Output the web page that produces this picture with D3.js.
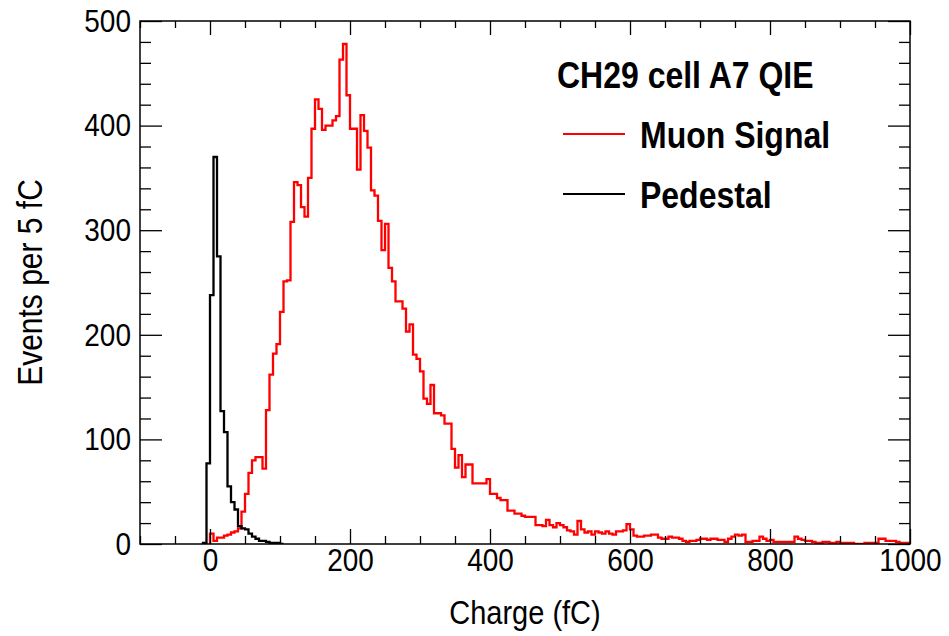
<!DOCTYPE html>
<html>
<head>
<meta charset="utf-8">
<script src="https://cdn.jsdelivr.net/npm/d3@7"></script>
<style>
  body { margin: 0; background: #fff; }
  svg text { font-family: "Liberation Sans", Arial, Helvetica, sans-serif; }
</style>
</head>
<body>
<div id="chart"></div>
<script>
// Canvas size
var svgWidth = 949;
var svgHeight = 636;

// Frame of the histogram pad
var margin = { top: 21, right: 39, bottom: 92, left: 140 };
var chartWidth = svgWidth - margin.left - margin.right;
var chartHeight = svgHeight - margin.top - margin.bottom;

// text in the original is a bit taller than wide
var textStretch = 1.15;

// Histogram binning (fC)
var binWidth = 5;
var muonStart = 0;
var pedStart = -10;

// Muon signal counts, 5 fC bins starting at 0 fC
var muonCounts = [
  10, 3, 6, 6, 8, 9, 11, 12, 15, 31,
  48, 68, 80, 83, 83, 72, 128, 162, 182, 191,
  222, 251, 252, 308, 346, 343, 322, 313, 350, 397,
  425, 416, 396, 400, 400, 405, 409, 463, 478, 429,
  397, 397, 358, 410, 395, 379, 338, 333, 309, 281,
  306, 264, 251, 232, 232, 225, 203, 210, 181, 177,
  165, 139, 134, 152, 125, 125, 123, 115, 115, 91,
  73, 85, 64, 76, 76, 58, 58, 58, 58, 62,
  48, 48, 44, 42, 42, 32, 32, 29, 29, 27,
  26, 26, 26, 18, 18, 17, 23, 18, 16, 20,
  18, 16, 13, 12, 9, 22, 14, 11, 12, 9,
  12, 11, 10, 12, 10, 9, 12, 12, 13, 19,
  14, 8, 7, 7, 8, 8, 9, 9, 6, 5,
  5, 7, 6, 6, 5, 3, 2, 3, 3, 4,
  5, 5, 4, 5, 5, 4, 4, 2, 5, 7,
  9, 8, 9, 2, 2, 3, 3, 7, 5, 3,
  4, 2, 2, 2, 2, 2, 2, 7, 5, 4,
  3, 3, 2, 1, 1, 2, 2, 1, 1, 2,
  1, 1, 1, 1, 0, 0, 0, 1, 1, 1,
  1, 5, 5, 3, 3, 3, 2, 1, 1, 1
];

// Pedestal counts, 5 fC bins starting at -10 fC
var pedCounts = [
  1, 77, 238, 370, 275, 127, 107, 55, 40, 33,
  17, 15, 14, 10, 7, 5, 3, 3, 2, 1,
  1, 1, 0
];

// Axis ticks
var xMajor = [0, 200, 400, 600, 800, 1000];
var xMinor = [-100, -50, 50, 100, 150, 250, 300, 350, 450, 500, 550, 650, 700, 750, 850, 900, 950];
var yMajor = [0, 100, 200, 300, 400, 500];
var yMinor = [20, 40, 60, 80, 120, 140, 160, 180, 220, 240, 260, 280, 320, 340, 360, 380, 420, 440, 460, 480];

// Legend entries
var legendTitle = "CH29 cell A7 QIE";
var legendNames = ["Muon Signal", "Pedestal"];
var legendColors = ["#ff0000", "#000000"];

var svg = d3.select("#chart")
  .append("svg")
  .attr("width", svgWidth)
  .attr("height", svgHeight);

var chartGroup = svg.append("g")
  .attr("transform", `translate(${margin.left}, ${margin.top})`);

var xScale = d3.scaleLinear().domain([-100, 1000]).range([0, chartWidth]);
var yScale = d3.scaleLinear().domain([0, 500]).range([chartHeight, 0]);

chartGroup.append("clipPath").attr("id", "plotClip")
  .append("rect").attr("width", chartWidth).attr("height", chartHeight);

// turn counts into step points for the outline
function histPoints(counts, start) {
  var pts = [{ x: start, y: 0 }];
  counts.forEach(function(c, i) {
    pts.push({ x: start + i * binWidth, y: c });
  });
  var end = start + counts.length * binWidth;
  pts.push({ x: end, y: counts[counts.length - 1] });
  pts.push({ x: end, y: 0 });
  return pts;
}

// stretch a text vertically, keeping its anchor point
function stretchText(sel) {
  sel.each(function() {
    var t = d3.select(this);
    var y = +t.attr("y") || 0;
    var tr = t.attr("transform") || "";
    t.attr("y", y / textStretch)
      .attr("transform", tr + " scale(1," + textStretch + ")");
  });
}

var drawStep = d3.line()
  .curve(d3.curveStepAfter)
  .x(d => xScale(d.x))
  .y(d => yScale(d.y));

var histGroup = chartGroup.append("g").attr("clip-path", "url(#plotClip)");

histGroup.append("path")
  .attr("d", drawStep(histPoints(muonCounts, muonStart)))
  .attr("fill", "none")
  .attr("stroke", legendColors[0])
  .attr("stroke-width", 2.3);

histGroup.append("path")
  .attr("d", drawStep(histPoints(pedCounts, pedStart)))
  .attr("fill", "none")
  .attr("stroke", legendColors[1])
  .attr("stroke-width", 2.3);

// Axes with ROOT style inward ticks on all four sides
function styleAxis(g) {
  g.select(".domain").remove();
  g.selectAll("line").attr("stroke", "#000").attr("stroke-width", 1.3);
  g.selectAll("text")
    .attr("font-size", 28)
    .attr("font-family", "Liberation Sans, Arial, sans-serif")
    .attr("fill", "#000")
    .call(stretchText);
}

chartGroup.append("g")
  .attr("transform", "translate(0, " + chartHeight + ")")
  .call(d3.axisBottom(xScale).tickValues(xMajor).tickSize(-15).tickPadding(4).tickFormat(d3.format("d")))
  .call(styleAxis);

chartGroup.append("g")
  .attr("transform", "translate(0, " + chartHeight + ")")
  .call(d3.axisBottom(xScale).tickValues(xMinor).tickSize(-8).tickFormat(""))
  .call(styleAxis);

chartGroup.append("g")
  .call(d3.axisTop(xScale).tickValues(xMajor).tickSize(-14).tickFormat(""))
  .call(styleAxis);

chartGroup.append("g")
  .call(d3.axisTop(xScale).tickValues(xMinor).tickSize(-7).tickFormat(""))
  .call(styleAxis);

chartGroup.append("g")
  .call(d3.axisLeft(yScale).tickValues(yMajor).tickSize(-22).tickPadding(9).tickFormat(d3.format("d")))
  .call(styleAxis);

chartGroup.append("g")
  .call(d3.axisLeft(yScale).tickValues(yMinor).tickSize(-11).tickFormat(""))
  .call(styleAxis);

chartGroup.append("g")
  .attr("transform", "translate(" + chartWidth + ", 0)")
  .call(d3.axisRight(yScale).tickValues(yMajor).tickSize(-22).tickFormat(""))
  .call(styleAxis);

chartGroup.append("g")
  .attr("transform", "translate(" + chartWidth + ", 0)")
  .call(d3.axisRight(yScale).tickValues(yMinor).tickSize(-11).tickFormat(""))
  .call(styleAxis);

// Frame
chartGroup.append("rect")
  .attr("width", chartWidth)
  .attr("height", chartHeight)
  .attr("fill", "none")
  .attr("stroke", "#000")
  .attr("stroke-width", 1.5);

// Axis titles
svg.append("text")
  .attr("x", margin.left + chartWidth / 2)
  .attr("y", 624)
  .attr("text-anchor", "middle")
  .attr("font-size", 29)
  .text("Charge (fC)")
  .call(stretchText);

svg.append("text")
  .attr("transform", "translate(42, " + (margin.top + chartHeight / 2) + ") rotate(-90)")
  .attr("text-anchor", "middle")
  .attr("font-size", 30)
  .text("Events per 5 fC")
  .call(stretchText);

// Legend
var legend = svg.append("g");

legend.append("text")
  .attr("x", 557)
  .attr("y", 88)
  .attr("font-size", 32)
  .attr("font-weight", "bold")
  .text(legendTitle)
  .call(stretchText);

legendNames.forEach(function(name, i) {
  var yPos = 134 + i * 60;
  legend.append("line")
    .attr("x1", 563).attr("x2", 625)
    .attr("y1", yPos).attr("y2", yPos)
    .attr("stroke", legendColors[i])
    .attr("stroke-width", 2);
  legend.append("text")
    .attr("x", 640)
    .attr("y", yPos + 14)
    .attr("font-size", 32)
    .attr("font-weight", "bold")
    .text(name)
    .call(stretchText);
});
</script>
</body>
</html>
